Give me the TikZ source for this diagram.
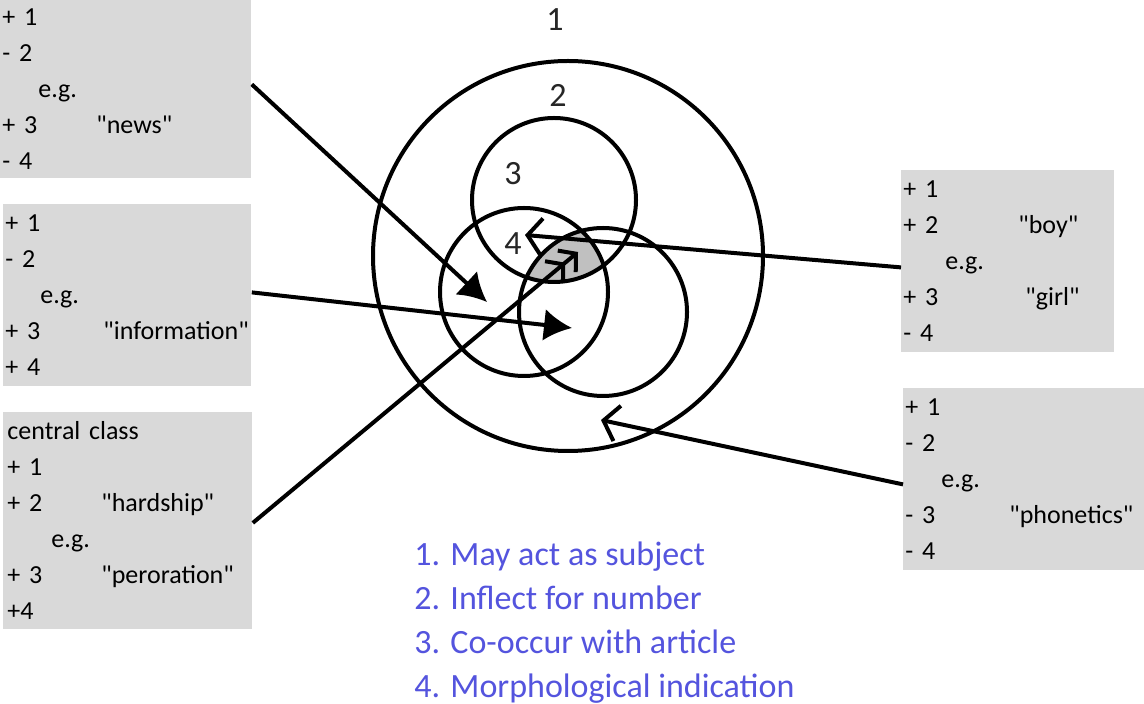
\documentclass[tikz,border=0pt]{standalone}
\usepackage{fontspec}
\setmainfont{Carlito}[Ligatures=TeXOff]
\usepackage{xcolor}
\usetikzlibrary{arrows.meta,positioning}
\definecolor{boxgray}{RGB}{217,217,217}
\definecolor{coregray}{RGB}{192,192,192}
\definecolor{legendblue}{RGB}{84,84,222}
\newcommand{\tabrow}[3]{\makebox[#2][l]{#1}#3}
\tikzset{
  ring/.style    ={circle,draw,line width=2pt,inner sep=0pt},
  featbox/.style ={rectangle,fill=boxgray,anchor=north west,align=left,
                   inner xsep=1pt,inner ysep=0pt,font=\fontsize{13}{18}\selectfont},
  numlbl/.style  ={font=\fontsize{17}{20}\selectfont,text=black!85},
  link/.style    ={line width=2pt},
  fillhead/.style={link,-{Latex[length=14pt,width=16pt]}},
  barbhead/.style={link,-{Straight Barb[length=7pt,width=18pt]}},
  dblhead/.style ={link,-{Straight Barb[length=6pt,width=14pt]Straight Barb[length=6pt,width=14pt]}},
}
\begin{document}
\begin{tikzpicture}
  \begin{scope}[x=0.5pt,y=-0.5pt]
  \fill[white] (0,0) rectangle (1144,704);
  \useasboundingbox (0,0) rectangle (1144,704);
  % feature boxes
  \node[featbox,text width=123.5pt,minimum height=89pt] (news) at (0,0)
    {+ 1\\- 2\\\hspace*{18pt}e.g.\\\tabrow{+ 3}{47pt}{"news"}\\- 4};
  \node[featbox,text width=122pt,minimum height=91pt] (info) at (3,204)
    {+ 1\\- 2\\\hspace*{17.5pt}e.g.\\\tabrow{+ 3}{49pt}{"information"}\\+ 4};
  \node[featbox,text width=120.5pt,minimum height=108.5pt,inner xsep=2pt] (core) at (3,412)
    {central class\\+ 1\\\tabrow{+ 2}{47pt}{"hardship"}\\\hspace*{22pt}e.g.\\\tabrow{+ 3}{47pt}{"peroration"}\\+4};
  \node[featbox,text width=104.5pt,minimum height=91pt] (boy) at (901,170)
    {+ 1\\\tabrow{+ 2}{57.5pt}{"boy"}\\\hspace*{21pt}e.g.\\\tabrow{+ 3}{61pt}{"girl"}\\- 4};
  \node[featbox,text width=118.5pt,minimum height=91pt] (phon) at (903,388)
    {+ 1\\- 2\\\hspace*{18pt}e.g.\\\tabrow{- 3}{52pt}{"phonetics"}\\- 4};
  % shared core of the three small circles
  \begin{scope}
    \clip (554,200) circle (82);
    \clip (524,292) circle (84);
    \fill[coregray] (603,312) circle (84);
  \end{scope}
  % circles
  \node[ring,minimum size=195pt] (outer) at (568,256) {};
  \node[ring,minimum size=82pt] (upper) at (554,200) {};
  \node[ring,minimum size=84pt] (left) at (524,292) {};
  \node[ring,minimum size=84pt] (right) at (603,312) {};
  % labels
  \node[numlbl] (one) at (555,20) {1};
  \node[numlbl] (two) at (558,95) {2};
  \node[numlbl] (three) at (513,174) {3};
  \node[numlbl] (four) at (513,244) {4};
  % arrow ends
  \coordinate (tipA) at (487,302);
  \coordinate (tipB) at (572,328);
  \coordinate (tipC) at (578,252);
  \coordinate (tipD) at (525,235);
  \coordinate (tipE) at (601,420);
  % legend
  \node[anchor=north west,align=left,inner sep=0pt,text=legendblue,
        font=\fontsize{17}{22}\selectfont] (legend) at (414,541)
    {1. May act as subject\\2. Inflect for number\\3. Co-occur with article\\4. Morphological indication};
  \end{scope}
  % arrows
  \draw[fillhead] ([yshift=2.5pt]news.east) -- (tipA);
  \draw[fillhead] ([yshift=1.5pt]info.east) -- (tipB);
  \draw[dblhead] ([yshift=-1pt]core.east) -- (tipC);
  \draw[barbhead] ([yshift=-3pt]boy.west) -- (tipD);
  \draw[barbhead] ([yshift=-2.5pt]phon.west) -- (tipE);
\end{tikzpicture}
\end{document}
